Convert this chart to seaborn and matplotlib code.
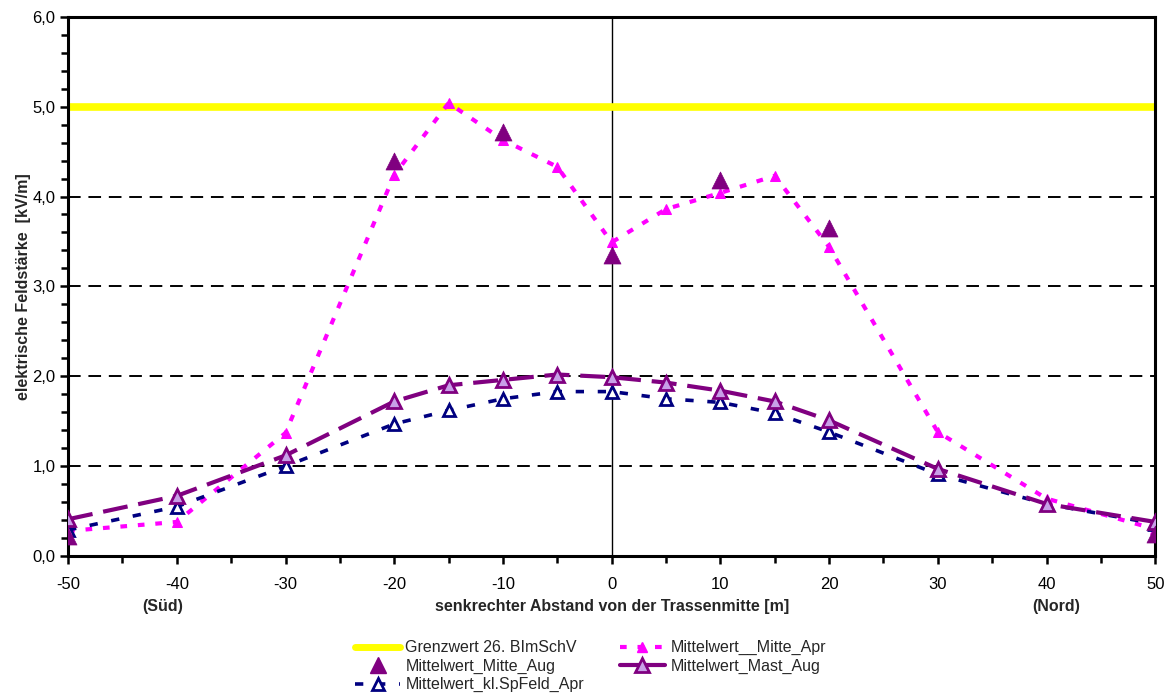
#!/usr/bin/env python3
"""
Elektrische Feldstaerke quer zur Trasse - Messwerte April / August.
"""

import matplotlib
matplotlib.use("Agg")
import matplotlib.pyplot as plt
import matplotlib.ticker as mticker
from matplotlib.lines import Line2D
import seaborn as sns

# Abstand von der Trassenmitte [m]
dist = [-50, -40, -30, -20, -15, -10, -5, 0, 5, 10, 15, 20, 30, 40, 50]

mitte_apr = [0.28, 0.38, 1.37, 4.24, 5.04, 4.63, 4.33, 3.49, 3.86, 4.04, 4.23, 3.44, 1.38, 0.64, 0.30]
mast_aug = [0.41, 0.67, 1.12, 1.72, 1.90, 1.96, 2.02, 1.99, 1.93, 1.84, 1.72, 1.51, 0.97, 0.58, 0.38]
spfeld_apr = [0.29, 0.55, 1.00, 1.47, 1.62, 1.75, 1.83, 1.83, 1.75, 1.71, 1.59, 1.38, 0.91, 0.58, 0.36]

# Mittelwert_Mitte_Aug: nur einzelne Messpunkte
mitte_aug_x = [-50, -20, -10, 0, 10, 20, 50]
mitte_aug = [0.22, 4.40, 4.72, 3.35, 4.18, 3.65, 0.25]

grenz_x = [-50, 50]
grenz = [5.0, 5.0]

grid_levels = [1, 2, 3, 4]

YELLOW = "#FFFF00"
MAGENTA = "#FF00FF"
PURPLE = "#800080"
LILAC = "#C8A0E8"
NAVY = "#000080"

FS = 12


def main():
    sns.set_theme(style="white")
    plt.rcParams["font.family"] = ["Liberation Sans", "DejaVu Sans"]
    plt.rcParams["axes.unicode_minus"] = False

    fig = plt.figure(figsize=(11.74, 6.96), dpi=100)
    ax = fig.add_axes([0.058, 0.201, 0.926, 0.775])

    # Hilfslinien
    for lvl in grid_levels:
        ax.axhline(lvl, color="black", lw=1.4, dashes=(6.5, 4), zorder=1)
    ax.axvline(0, color="black", lw=1.0, zorder=1)

    sns.lineplot(x=grenz_x, y=grenz, ax=ax, color=YELLOW, lw=5.5, zorder=2)

    sns.lineplot(x=dist, y=mitte_apr, ax=ax, color=MAGENTA, lw=3,
                 linestyle=(0, (1.6, 2.6)),
                 marker="^", markersize=7, markeredgecolor=MAGENTA, zorder=3)

    sns.lineplot(x=dist, y=spfeld_apr, ax=ax, color=NAVY, lw=2.6,
                 linestyle=(0, (2.3, 3.8)),
                 marker="^", markersize=8, markerfacecolor="white",
                 markeredgecolor=NAVY, markeredgewidth=2, zorder=4)

    sns.lineplot(x=dist, y=mast_aug, ax=ax, color=PURPLE, lw=3,
                 linestyle=(0, (6, 2.6)),
                 marker="^", markersize=10, markerfacecolor=LILAC,
                 markeredgecolor=PURPLE, markeredgewidth=2, zorder=5)

    sns.scatterplot(x=mitte_aug_x, y=mitte_aug, ax=ax, marker="^", s=150,
                    color=PURPLE, edgecolor=PURPLE, linewidth=0.5, zorder=6)

    # Achsen
    ax.set_xlim(-50, 50)
    ax.set_ylim(0, 6)
    ax.xaxis.set_major_locator(mticker.MultipleLocator(10))
    ax.xaxis.set_minor_locator(mticker.MultipleLocator(5))
    ax.yaxis.set_major_locator(mticker.MultipleLocator(1))
    ax.yaxis.set_minor_locator(mticker.MultipleLocator(0.2))
    ax.yaxis.set_major_formatter(
        mticker.FuncFormatter(lambda v, p: f"{v:.1f}".replace(".", ",")))
    ax.tick_params(axis="both", which="both", direction="out", color="black",
                   width=1.8, labelsize=FS, labelcolor="black")
    ax.tick_params(axis="both", which="major", length=6)
    ax.tick_params(axis="both", which="minor", length=5)
    ax.tick_params(axis="x", which="major", pad=9)
    ax.tick_params(axis="y", which="major", pad=3)
    ax.tick_params(axis="x", which="both", bottom=True)
    ax.tick_params(axis="y", which="both", left=True)
    for sp in ax.spines.values():
        sp.set_visible(True)
        sp.set_color("black")
        sp.set_linewidth(2.2)

    ax.set_ylabel("elektrische Feldstärke  [kV/m]", fontsize=11.5,
                  fontweight="bold")
    ax.yaxis.set_label_coords(-0.034, 0.5)
    ax.set_xlabel("senkrechter Abstand von der Trassenmitte [m]", fontsize=11.5,
                  fontweight="bold")
    ax.xaxis.set_label_coords(0.5, -0.093)
    ax.xaxis.label.set_va("center")
    trans = ax.get_xaxis_transform()
    ax.text(-41.3, -0.093, "(Süd)", transform=trans, ha="center", va="center",
            fontsize=11.5, fontweight="bold")
    ax.text(40.9, -0.093, "(Nord)", transform=trans, ha="center", va="center",
            fontsize=11.5, fontweight="bold")

    # Legende (spaltenweise wie im Original)
    handles = [
        Line2D([], [], color=YELLOW, lw=5),
        Line2D([], [], ls="none", marker="^", markersize=11, color=PURPLE),
        Line2D([], [], color=NAVY, lw=2.6, linestyle=(0, (2.3, 3.8)), marker="^",
               markersize=8, markerfacecolor="white", markeredgecolor=NAVY,
               markeredgewidth=2),
        Line2D([], [], color=MAGENTA, lw=3, linestyle=(0, (1.6, 2.6)),
               marker="^", markersize=7),
        Line2D([], [], color=PURPLE, lw=3, marker="^", markersize=10,
               markerfacecolor=LILAC, markeredgecolor=PURPLE, markeredgewidth=2),
    ]
    labels = [
        "Grenzwert 26. BImSchV",
        "Mittelwert_Mitte_Aug",
        "Mittelwert_kl.SpFeld_Apr",
        "Mittelwert__Mitte_Apr",
        "Mittelwert_Mast_Aug",
    ]
    fig.legend(handles, labels, loc="upper center", bbox_to_anchor=(0.503, 0.094),
               ncol=2, frameon=False, fontsize=11.5, handlelength=2.8,
               labelspacing=0.22, columnspacing=2.25, handletextpad=0.35,
               borderpad=0.1)

    fig.savefig("out.png", dpi=100)
    plt.close(fig)


if __name__ == "__main__":
    main()
